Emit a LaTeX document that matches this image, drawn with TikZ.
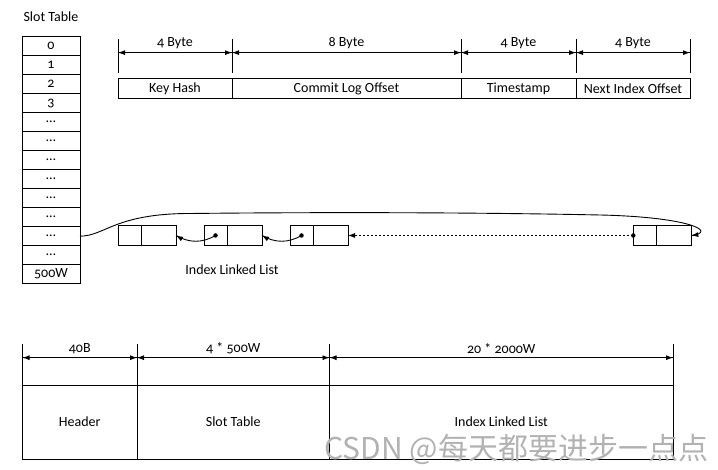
\documentclass[tikz,border=0pt]{standalone}
\usepackage{fontspec}
\setmainfont{Carlito}[Numbers=OldStyle]
\newfontfamily\cjkfont{Noto Sans CJK SC}
\usepackage{tikz}
\usetikzlibrary{arrows.meta}
\usetikzlibrary{decorations.markings}
\usetikzlibrary{positioning}
\tikzset{
  flechafin/.style={
    postaction={decorate, decoration={
      markings,
      mark=at position 1 with {\arrow{Latex[length=7pt,width=5pt]}}
    }}
  },
  cota/.style={
    postaction={decorate, decoration={
      markings,
      mark=at position 0 with {\arrowreversed{Latex[length=7pt,width=5pt]}},
      mark=at position 1 with {\arrow{Latex[length=7pt,width=5pt]}}
    }}
  }
}

\begin{document}
\begin{tikzpicture}[x=1pt, y=1pt, node distance=19pt, line width=0.9pt, font=\fontsize{14}{16}\selectfont] % Estilos de nodos
\tikzstyle{celda} = [rectangle, draw, minimum width=58pt, minimum height=19pt, inner sep=0pt, outer sep=0pt] \tikzstyle{campo} = [rectangle, draw, minimum height=19.7pt, inner sep=0pt, outer sep=0pt] \tikzstyle{puntero} = [rectangle, draw, minimum width=23pt, minimum height=19.5pt, inner sep=0pt, outer sep=0pt] \tikzstyle{dato} = [rectangle, draw, minimum width=35pt, minimum height=19.5pt, inner sep=0pt, outer sep=0pt] \tikzstyle{bloque} = [rectangle, draw, minimum height=74pt, inner sep=0pt, outer sep=0pt] \tikzstyle{punto} = [circle, fill, inner sep=0pt, minimum size=4.5pt]
\useasboundingbox (0,0) rectangle (718,470);
% Slot Table
\node (titulo) at (51,453) {Slot Table}; \node (slot0) [celda] at (51,423.8) {0};
\foreach \t [count=\i, remember=\i as \j (initially 0)] in {1,2,3,\ldots,\ldots,\ldots,\ldots,\ldots,\ldots,\ldots,\ldots,500W}{ \node (slot\i) [celda, below of=slot\j] {\t}; }
% Campos de la entrada
\node (keyhash) [campo, minimum width=114pt] at (175,381.2) {Key Hash}; \node (commit) [campo, minimum width=229pt, right=0pt of keyhash] {Commit Log Offset}; \node (tstamp) [campo, minimum width=115pt, right=0pt of commit] {Timestamp}; \node (nextidx) [campo, minimum width=114pt, right=0pt of tstamp] {Next Index Offset};
% Cotas de los campos
\foreach \n/\c in {keyhash.north west/k0, commit.north west/k1, tstamp.north west/k2, nextidx.north west/k3, nextidx.north east/k4}{ \draw ([yshift=6pt]\n) -- ++(0,34); \coordinate (\c) at ([yshift=26.3pt]\n); }
\foreach \a/\b/\t in {k0/k1/4 Byte, k1/k2/8 Byte, k2/k3/4 Byte, k3/k4/4 Byte}{ \draw[cota] (\a) -- node[above] {\t} (\b); }
% Lista enlazada
\node (ptr1) [puntero] at (129.5,234.5) {}; \node (dat1) [dato, right=0pt of ptr1] {};
\foreach \i [remember=\i as \j (initially 1)] in {2,3}{ \node (ptr\i) [puntero, right=28pt of dat\j] {}; \node (dat\i) [dato, right=0pt of ptr\i] {}; }
\node (ptr4) [puntero] at (644.8,234.5) {}; \node (dat4) [dato, right=0pt of ptr4] {};
\node (pto2) [punto] at (ptr2) {}; \node (pto3) [punto] at (ptr3) {}; \node (pto4) [punto] at (ptr4.west) {};
\node (lista) at (232,200) {Index Linked List};
% Flechas de la lista
\foreach \i/\j in {2/1, 3/2}{ \draw[flechafin] (pto\i.center) to[bend left=30] (dat\j.east); }
\draw[flechafin, dash pattern=on 2.5pt off 1.5pt] (pto4.center) -- (dat3.east);
\draw[flechafin] (slot10.east) .. controls (105,234) and (115,256.5) .. (190,256.5) .. controls (330,258) and (480,257.5) .. (600,255) .. controls (690,253) and (718,238) .. (dat4.east);
% Estructura del fichero
\node (header) [bloque, minimum width=114.5pt] at (79.75,48) {Header}; \node (slottab) [bloque, minimum width=192.5pt, right=0pt of header] {Slot Table}; \node (idxlist) [bloque, minimum width=343.5pt, right=0pt of slottab] {Index Linked List};
\foreach \n/\c in {header.north west/b0, slottab.north west/b1, idxlist.north west/b2, idxlist.north east/b3}{ \draw (\n) -- ++(0,41); \coordinate (\c) at ([yshift=27.3pt]\n); }
\foreach \a/\b/\t in {b0/b1/40B, b1/b2/4 * 500W, b2/b3/20 * 2000W}{ \draw[cota] (\a) -- node[above] {\t} (\b); }
% Marca de agua
\node (marca) [anchor=west, inner sep=0pt, text=black!30, font=\cjkfont\fontsize{30}{32}\selectfont] at (324,21) {CSDN @每天都要进步一点点};
\end{tikzpicture}
\end{document}
